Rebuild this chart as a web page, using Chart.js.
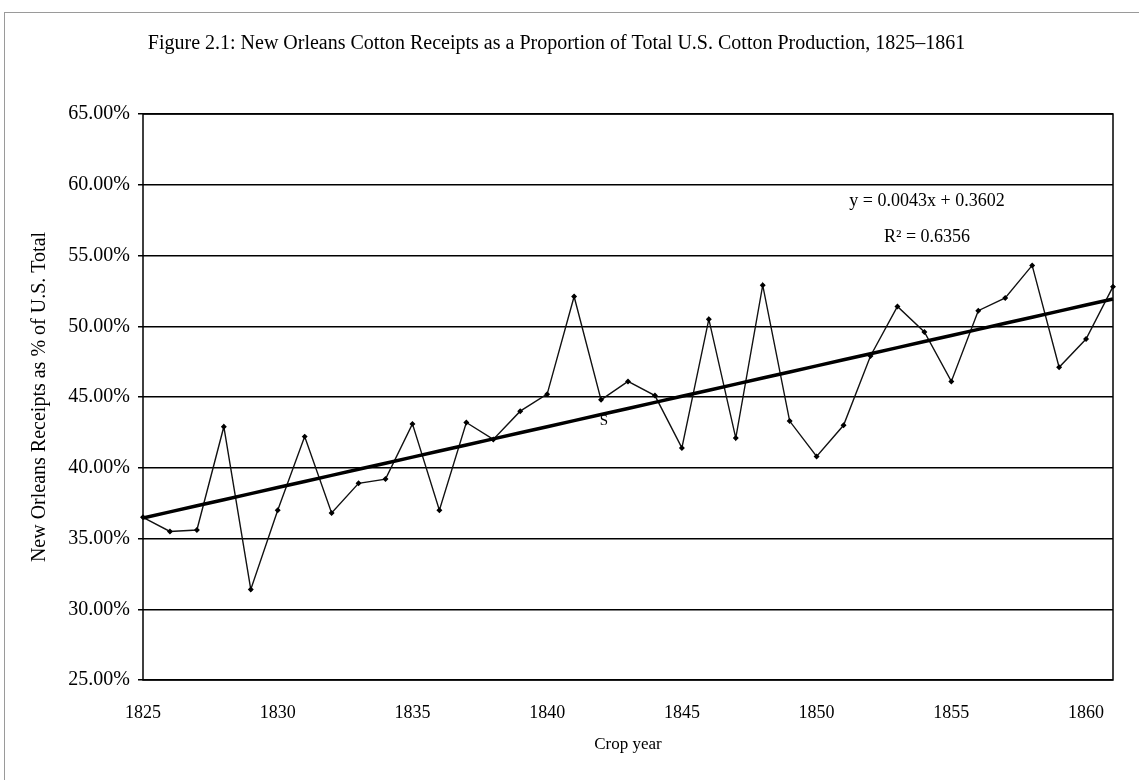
<!DOCTYPE html>
<html>
<head>
<meta charset="utf-8">
<title>New Orleans Cotton Receipts</title>
<script src="https://cdn.jsdelivr.net/npm/chart.js@4.4.1/dist/chart.umd.min.js"></script>
<style>
    html, body { margin: 0; padding: 0; background: #fff; }
    #wrap { position: relative; width: 1139px; height: 780px; overflow: hidden; }
    #frame { position: absolute; left: 4px; top: 12px; width: 1200px; height: 800px;
             border-left: 1px solid #9a9a9a; border-top: 1px solid #9a9a9a; }
    canvas { position: absolute; left: 0; top: 0; }
</style>
</head>
<body>
<div id="wrap">
    <div id="frame"></div>
    <canvas id="chart" width="1139" height="780"></canvas>
</div>
<script>
const years = [];
for (let y = 1825; y <= 1861; y++) years.push(String(y));

// % of U.S. total
const receiptsPct = [
    36.5, 35.5, 35.6, 42.9, 31.4, 37.0, 42.2, 36.8, 38.9, 39.2,
    43.1, 37.0, 43.2, 42.0, 44.0, 45.2, 52.1, 44.8, 46.1, 45.1,
    41.4, 50.5, 42.1, 52.9, 43.3, 40.8, 43.0, 47.9, 51.4, 49.6,
    46.1, 51.1, 52.0, 54.3, 47.1, 49.1, 52.8
];

// linear trend as printed on the chart: y = 0.0043x + 0.3602
const trendSlope = 0.0043;
const trendIntercept = 0.3602;
const trendLabel = "y = 0.0043x + 0.3602";
const r2Label = "R² = 0.6356";

const yTicks = [25, 30, 35, 40, 45, 50, 55, 60, 65];
const xLabelEvery = 5;

const trendPct = years.map((_, i) => 100 * (trendSlope * (i + 1) + trendIntercept));

const serif = "'Liberation Serif', 'Times New Roman', serif";

const extras = {
    id: "extras",
    afterDatasetsDraw(chart) {
        const { ctx, chartArea: a } = chart;
        ctx.save();
        ctx.strokeStyle = "#000";
        ctx.lineWidth = 1.5;
        ctx.strokeRect(a.left, a.top, a.right - a.left, a.bottom - a.top);

        ctx.fillStyle = "#000";
        ctx.font = "18px " + serif;
        ctx.textAlign = "center";
        ctx.textBaseline = "middle";
        ctx.fillText(trendLabel, 927, 201);
        ctx.fillText(r2Label, 927, 237);
        ctx.font = "15px " + serif;
        ctx.fillText("S", 604, 421);
        ctx.restore();
    }
};

new Chart(document.getElementById("chart"), {
    type: "line",
    data: {
        labels: years,
        datasets: [
            {
                label: "Linear trend",
                data: trendPct,
                borderColor: "#000",
                borderWidth: 3.5,
                pointRadius: 0,
                tension: 0,
            },
            {
                label: "Receipts",
                data: receiptsPct,
                borderColor: "#111",
                borderWidth: 1.4,
                pointStyle: "rectRot",
                pointRadius: 2,
                pointBackgroundColor: "#000",
                pointBorderColor: "#000",
                tension: 0,
            },
        ],
    },
    options: {
        responsive: false,
        animation: false,
        layout: { padding: { left: 0, right: 26, top: 0, bottom: 0 } },
        plugins: {
            legend: { display: false },
            tooltip: { enabled: false },
            title: {
                display: true,
                text: "Figure 2.1: New Orleans Cotton Receipts as a Proportion of Total U.S. Cotton Production, 1825–1861",
                color: "#000",
                font: { family: serif, size: 20, weight: "normal" },
                padding: { top: 32, bottom: 58 },
            },
        },
        scales: {
            x: {
                offset: false,
                grid: { display: false },
                border: { display: false },
                ticks: {
                    autoSkip: false,
                    maxRotation: 0,
                    color: "#000",
                    padding: 14,
                    font: { family: serif, size: 18 },
                    callback: (v, i) => (i % xLabelEvery === 0 ? years[i] : ""),
                },
                title: {
                    display: true,
                    text: "Crop year",
                    color: "#000",
                    font: { family: serif, size: 17 },
                    padding: { top: 0, bottom: 25 },
                },
                afterFit: (s) => { s.height = 100; },
            },
            y: {
                min: 25,
                max: 65,
                afterBuildTicks: (s) => { s.ticks = yTicks.map((v) => ({ value: v })); },
                grid: { color: "#000", lineWidth: 1.5, tickLength: 5 },
                border: { display: false },
                ticks: {
                    color: "#000",
                    padding: 8,
                    font: { family: serif, size: 20 },
                    callback: (v) => v.toFixed(2) + "%",
                },
                title: {
                    display: true,
                    text: "New Orleans Receipts as % of U.S. Total",
                    color: "#000",
                    font: { family: serif, size: 20 },
                    padding: { top: 28, bottom: 0 },
                },
                afterFit: (s) => { s.width = 143; },
            },
        },
    },
    plugins: [extras],
});
</script>
</body>
</html>
